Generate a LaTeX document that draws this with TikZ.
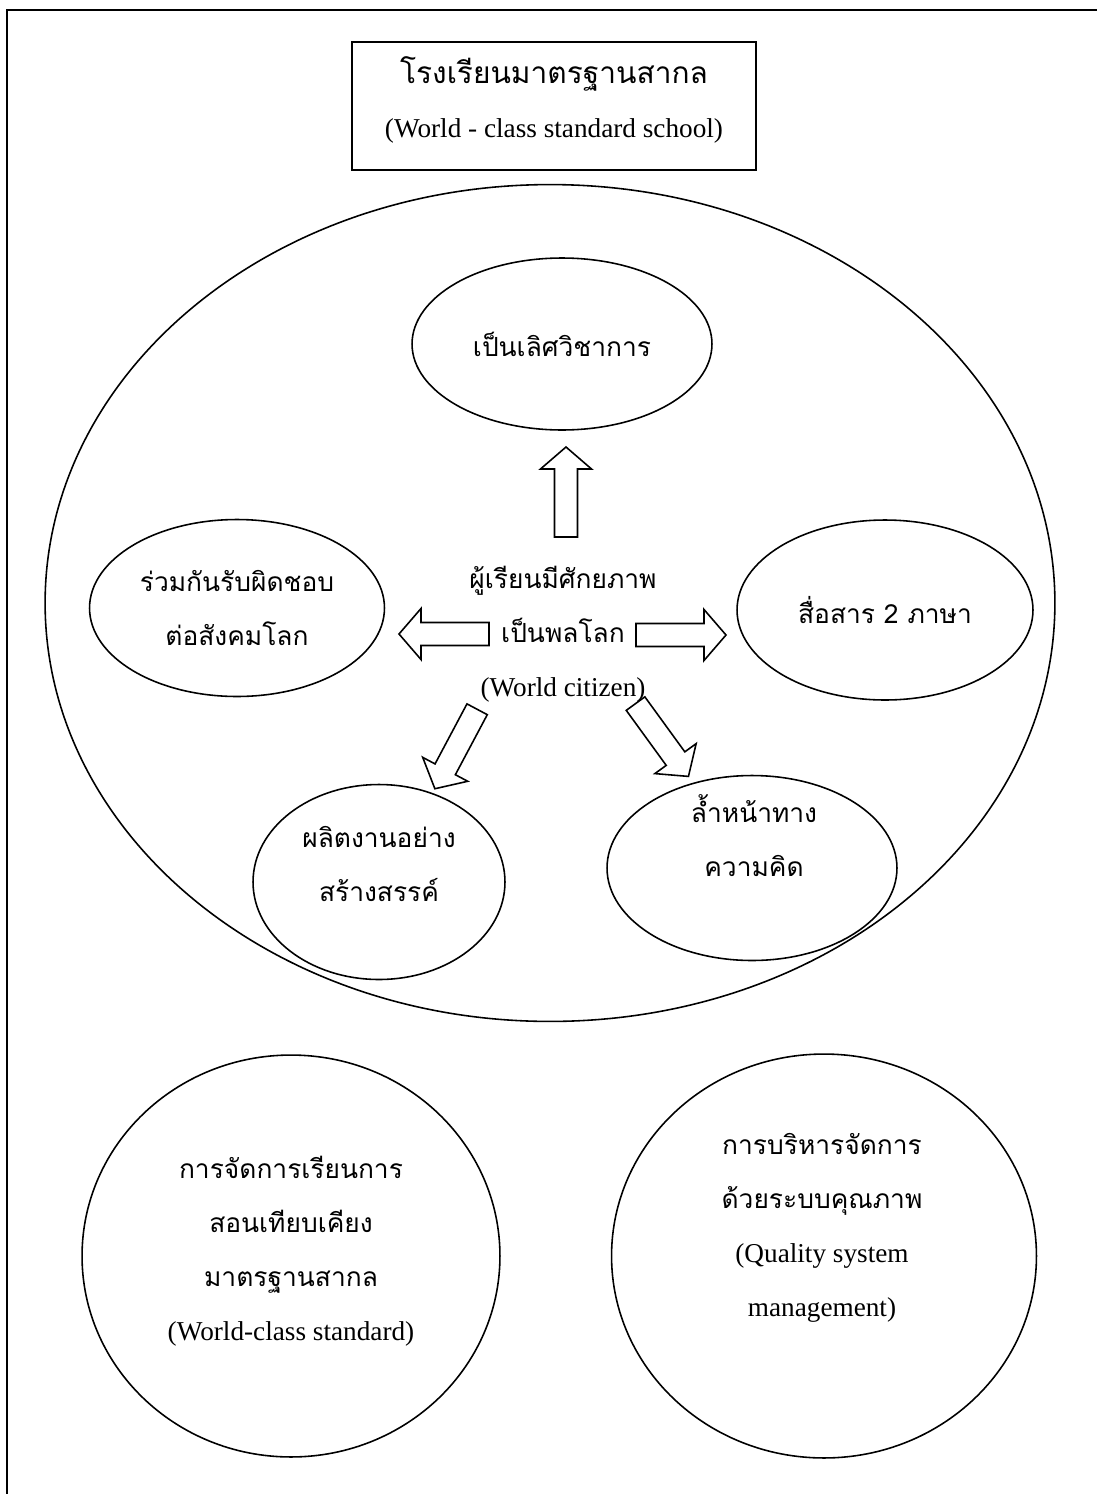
\documentclass[tikz,border=0pt]{standalone}
\usepackage{fontspec}
\setmainfont{Liberation Serif}
\newfontfamily\thaifont[Script=Thai]{Loma}
\usetikzlibrary{shapes.geometric}

\tikzset{
  bubble/.style={draw, ellipse, line width=0.9pt, inner sep=0pt},
  thtxt/.style={align=center, font=\thaifont\fontsize{15}{30.7}\selectfont},
  blkarrow/.pic={
    \draw[line width=0.9pt] (-45,-11.5) -- (23,-11.5) -- (23,-25.5) -- (45,0)
      -- (23,25.5) -- (23,11.5) -- (-45,11.5) -- cycle;
  }
}
\newcommand{\lat}[1]{{\rmfamily\fontsize{15.5}{30.7}\selectfont #1}}

\begin{document}
\begin{tikzpicture}[x=0.02cm, y=-0.02cm]
    \useasboundingbox (0,0) rectangle (1097,1494);
    % page frame
    \draw[line width=1.3pt] (7,1494) -- (7,10) -- (1097,10);

    % title
    \node[draw, line width=0.9pt, minimum width=8.08cm, minimum height=2.56cm] (titlebox) at (554,106) {};
    \node[thtxt, font=\thaifont\fontsize{17}{30.7}\selectfont] (title) at (554,100) {โรงเรียนมาตรฐานสากล\\ \lat{(World - class standard school)}};

    % world citizen circle
    \node[bubble, minimum width=20.2cm, minimum height=16.74cm] (world) at (550,603) {};
    \node[bubble, minimum width=6cm, minimum height=3.44cm] (acad) at (562,344) {};
    \node[thtxt] (acadtxt) at (acad) {เป็นเลิศวิชาการ};
    \node[bubble, minimum width=5.9cm, minimum height=3.54cm] (resp) at (237,608) {};
    \node[thtxt] (resptxt) at (resp) {ร่วมกันรับผิดชอบ\\ต่อสังคมโลก};
    \node[bubble, minimum width=5.92cm, minimum height=3.6cm] (lang) at (885,610) {};
    \node[thtxt] (langtxt) at (lang) {สื่อสาร 2 ภาษา};
    \node[bubble, minimum width=5.04cm, minimum height=3.9cm] (creat) at (379,882) {};
    \node[thtxt] (creattxt) at (379,864) {ผลิตงานอย่าง\\สร้างสรรค์};
    \node[bubble, minimum width=5.8cm, minimum height=3.7cm] (think) at (752,868) {};
    \node[thtxt] (thinktxt) at (754,836) {ล้ำหน้าทาง\\ความคิด};

    \node[thtxt] (citizen) at (563,634) {ผู้เรียนมีศักยภาพ\\เป็นพลโลก\\ \lat{(World citizen)}};

    % block arrows out of the centre
    \pic[rotate=90] at (566,492) {blkarrow};
    \pic[rotate=180] at (444,634) {blkarrow};
    \pic at (681,635) {blkarrow};
    \pic[rotate=242] at (456,749) {blkarrow};
    \pic[rotate=-54] at (662,740) {blkarrow};

    % two supports
    \node[bubble, minimum width=8.36cm, minimum height=8.04cm] (teach) at (291,1256) {};
    \node[thtxt] (teachtxt) at (291,1251) {การจัดการเรียนการ\\สอนเทียบเคียง\\มาตรฐานสากล\\ \lat{(World-class standard)}};
    \node[bubble, minimum width=8.5cm, minimum height=8.08cm] (manage) at (824,1256) {};
    \node[thtxt] (managetxt) at (822,1228) {การบริหารจัดการ\\ด้วยระบบคุณภาพ\\ \lat{(Quality system}\\ \lat{management)}};
\end{tikzpicture}
\end{document}
